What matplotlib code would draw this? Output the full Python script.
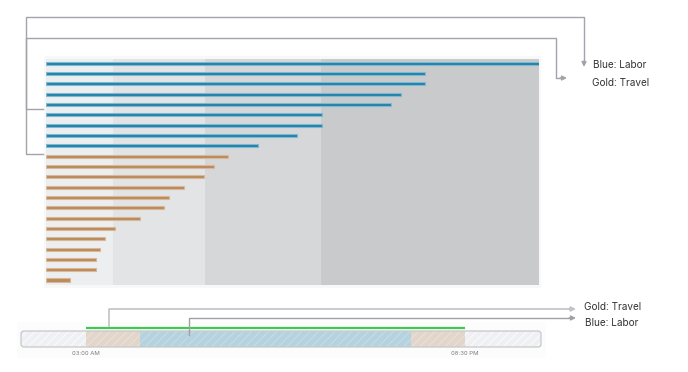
import matplotlib
matplotlib.use('Agg')
import matplotlib.pyplot as plt
from matplotlib.patches import FancyBboxPatch, Rectangle
import numpy as np

plt.rcParams['font.family'] = ['Inter', 'DejaVu Sans']
plt.rcParams['hatch.linewidth'] = 0.8

# ---- data ----
labor_values = [100, 76.9, 76.9, 72.0, 70.0, 56.0, 56.0, 50.9, 43.0]
travel_values = [36.9, 34.1, 32.0, 28.0, 24.9, 23.9, 19.1, 14.0, 12.0, 11.0, 10.1, 10.1, 4.9]
band_edges = [0, 13.6, 32.3, 55.8, 100]
band_colors = ['#edeef0', '#e3e4e6', '#d6d7d9', '#c9cacc']

seg_start = [0, 3, 5.5, 18, 20.5]
seg_end = [3, 5.5, 18, 20.5, 24]
seg_kind = ['idle', 'travel', 'labor', 'travel', 'idle']
shift_start, shift_end = 3, 20.5
tick_hours = [3, 20.5]
tick_labels = ['03:00 AM', '08:30 PM']
legend_top = ['Blue: Labor', 'Gold: Travel']
legend_bottom = ['Gold: Travel', 'Blue: Labor']

W, H = 688, 372
fig = plt.figure(figsize=(W / 100, H / 100), dpi=100)
fig.patch.set_facecolor('white')


def px_rect(x0, y0, x1, y1):
    return [x0 / W, 1 - y1 / H, (x1 - x0) / W, (y1 - y0) / H]


# faint halos
fig.patches.append(Rectangle((44 / W, 1 - 288 / H), 497 / W, 232 / H,
                             transform=fig.transFigure, color='#f8f8f9', lw=0, zorder=-5))
fig.patches.append(Rectangle((17 / W, 1 - 358 / H), 529 / W, 36 / H,
                             transform=fig.transFigure, color='#fcfcfc', lw=0, zorder=-5))

# ---- main bar panel ----
ax = fig.add_axes(px_rect(46, 59, 539, 285))
values = labor_values + travel_values
n = len(values)
for i in range(len(band_colors)):
    ax.axvspan(band_edges[i], band_edges[i + 1], color=band_colors[i], lw=0, zorder=0)
colors = ['#2281a9'] * len(labor_values) + ['#b98a5b'] * len(travel_values)
edges = ['#7fb8d0'] * len(labor_values) + ['#d8b898'] * len(travel_values)
ax.barh(np.arange(n), values, height=0.3, color=colors, edgecolor=edges,
        linewidth=0.8, zorder=2)
ax.set_xlim(0, 100)
ax.set_ylim(n - 1 + 0.48, -0.4)
ax.axis('off')

# ---- timeline panel ----
ax2 = fig.add_axes(px_rect(21, 331, 541, 347))
seg_fill = {'idle': '#eef0f3', 'travel': '#e2d5c9', 'labor': '#b5d2df'}
seg_hatch = {'idle': '#f9fafb', 'travel': '#ebe1d8', 'labor': '#c6dce6'}
for s, e, k in zip(seg_start, seg_end, seg_kind):
    ax2.barh(0.5, e - s, left=s, height=1, color=seg_fill[k], hatch='////',
             edgecolor=seg_hatch[k], linewidth=0, zorder=1)
ax2.plot([shift_start, shift_end], [1.19, 1.19], color='#3dcc50', lw=1.6,
         clip_on=False, solid_capstyle='butt', zorder=3)
ax2.set_xlim(0, 24)
ax2.set_ylim(0, 1)
ax2.set_xticks(tick_hours, tick_labels, fontsize=4.3, color='#7a7a7a')
ax2.tick_params(axis='x', length=0, pad=3)
ax2.set_yticks([])
for sp in ax2.spines.values():
    sp.set_visible(False)

# ---- overlay for connectors / labels ----
ov = fig.add_axes([0, 0, 1, 1], zorder=10)
ov.set_xlim(0, W)
ov.set_ylim(H, 0)
ov.axis('off')
ov.patch.set_alpha(0)

# rounded border of timeline
ov.add_patch(FancyBboxPatch((21, 331), 520, 16, boxstyle='round,pad=0,rounding_size=3',
                            fill=False, edgecolor='#c8c8cc', lw=0.9))

gray = '#a3a3aa'


def connector(pts, tip, color, lw=1.0):
    xs, ys = zip(*pts)
    ov.plot(xs, ys, color=color, lw=lw, solid_joinstyle='round')
    ov.annotate('', xy=tip, xytext=pts[-1],
                arrowprops=dict(arrowstyle='-|>', color=color, lw=lw,
                                mutation_scale=7, shrinkA=0, shrinkB=0))


connector([(43, 109), (26, 109), (26, 17), (584, 17), (584, 61)], (584, 67), gray)
connector([(43, 154), (26, 154), (26, 38), (556, 38), (556, 78), (560, 78)], (567, 78), gray)
ov.text(593, 65.5, legend_top[0], fontsize=7.2, color='#333333', va='center', ha='left')
ov.text(592, 83, legend_top[1], fontsize=7.2, color='#333333', va='center', ha='left')

connector([(109, 326), (109, 309), (569, 309)], (576, 309), '#c2c2c6', lw=1.2)
connector([(189, 335), (189, 318), (569, 318)], (576, 318), '#a0a0a6', lw=1.0)
ov.text(584, 306.5, legend_bottom[0], fontsize=7.2, color='#333333', va='center', ha='left')
ov.text(585, 323.5, legend_bottom[1], fontsize=7.2, color='#333333', va='center', ha='left')

fig.savefig('out.png', dpi=100)
